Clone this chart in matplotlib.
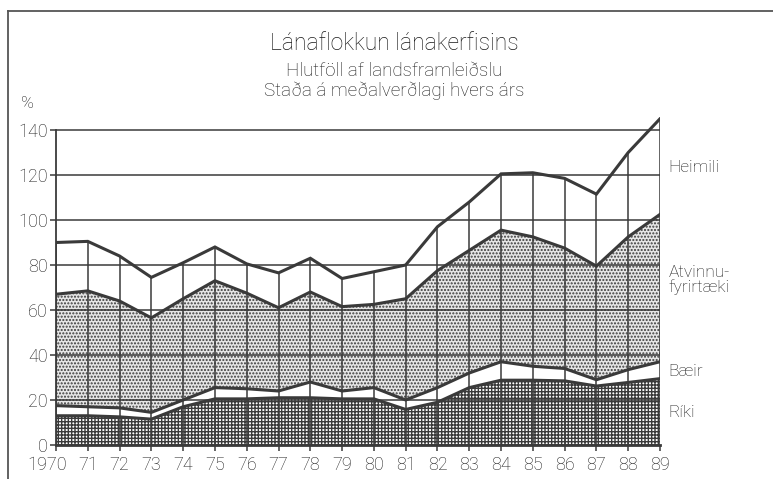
import numpy as np
import matplotlib
matplotlib.use('Agg')
import matplotlib.pyplot as plt
from matplotlib.lines import Line2D
from matplotlib.transforms import ScaledTranslation

# ---- data ----
years = list(range(1970, 1990))
year_labels = ['1970', '71', '72', '73', '74', '75', '76', '77', '78', '79',
               '80', '81', '82', '83', '84', '85', '86', '87', '88', '89']
riki = [13, 13, 12.5, 11.5, 17, 20.5, 20.5, 21, 21, 20.5,
        20.5, 15.8, 19, 25.5, 28.8, 28.8, 28.5, 26.2, 27.8, 29.5]
baeir = [4.5, 4, 4, 3, 3, 5, 4.5, 3, 7, 3.5,
         5, 4.2, 6.5, 6.5, 8.2, 6.2, 5.5, 2.8, 5.7, 7.5]
atvinnu = [49.5, 51.5, 47.5, 42, 45, 47.5, 42.5, 37, 40, 37.5,
           37, 45, 52, 54.5, 58.5, 57.5, 53.5, 50.5, 59, 65.5]
heimili = [23, 22, 20, 18, 16, 15, 13, 15.5, 15, 12.5,
           14.5, 15, 19.5, 21.5, 25, 28.5, 31, 32, 37.5, 42.5]
series_names = ['Ríki', 'Bæir', 'Atvinnu-\nfyrirtæki', 'Heimili']
label_pos = [14.3, 32.6, 73.3, 123.4]
yticks = [0, 20, 40, 60, 80, 100, 120, 140]

title = 'Lánaflokkun lánakerfisins'
subtitle1 = 'Hlutföll af landsframleiðslu'
subtitle2 = 'Staða á meðalverðlagi hvers árs'

# ---- style ----
ink = '#3a3a3a'
txt = '#1a1a1a'
plt.rcParams['font.family'] = ['Roboto', 'Liberation Sans', 'DejaVu Sans']
plt.rcParams['font.weight'] = 'light'
plt.rcParams['hatch.linewidth'] = 1.0
plt.rcParams['hatch.color'] = ink

W, H = 773, 479
fig = plt.figure(figsize=(W / 100, H / 100), dpi=100)
fig.patch.set_facecolor('white')
ax = fig.add_axes([56 / W, 34 / H, 604 / W, (445 - 116.5) / H])
ax.set_xlim(1970, 1989)
ax.set_ylim(0, 146)

x = np.array(years)
layers = [riki, baeir, atvinnu, heimili]
hatches = ['+++++', None, '.....', None]
faces = ['white', 'white', '#e6e6e6', 'white']
base = np.zeros(len(x))
tops = []
for vals, h, fc in zip(layers, hatches, faces):
    top = base + np.array(vals, dtype=float)
    ax.fill_between(x, base, top, facecolor=fc,
                    edgecolor=ink if h else 'none', hatch=h,
                    linewidth=0, zorder=1)
    tops.append(top)
    base = top

for yv in yticks[1:]:
    ax.axhline(yv, color=ink, lw=1.1, zorder=3)
ax.vlines(x, 0, tops[-1], color=ink, lw=1.1, zorder=3)
for top in tops:
    ax.plot(x, top, color=ink, lw=2.2, zorder=4, solid_joinstyle='miter')

for s in ['top', 'right']:
    ax.spines[s].set_visible(False)
ax.spines['left'].set_bounds(0, 140)
ax.spines['left'].set_color(ink)
ax.spines['left'].set_linewidth(1.3)
ax.spines['bottom'].set_color(ink)
ax.spines['bottom'].set_linewidth(2.0)
ax.spines['bottom'].set_zorder(5)

ax.set_xticks(years)
ax.set_xticklabels(year_labels)
ax.set_yticks(yticks)
ax.set_yticklabels([str(v) for v in yticks])
ax.tick_params(axis='both', direction='out', length=4.5, width=1.1,
               color=ink, labelsize=13, labelcolor=txt)
ax.tick_params(axis='x', pad=3.5)
ax.tick_params(axis='y', pad=1.5)
first = ax.xaxis.get_major_ticks()[0].label1
first.set_transform(first.get_transform() +
                    ScaledTranslation(-0.09, 0, fig.dpi_scale_trans))

for name, yv in zip(series_names, label_pos):
    ax.annotate(name, xy=(1989, yv), xytext=(6, 0), textcoords='offset points',
                ha='left', va='center', fontsize=12.5, color=txt,
                linespacing=0.95, annotation_clip=False)

cx = 394 / W
fig.text(cx, 1 - 50 / H, title, ha='center', va='baseline', fontsize=16.5,
         color=txt)
fig.text(cx, 1 - 75.5 / H, subtitle1, ha='center', va='baseline',
         fontsize=13.5, color=txt)
fig.text(cx, 1 - 96 / H, subtitle2, ha='center', va='baseline',
         fontsize=13.5, color=txt)
fig.text(28 / W, 1 - 104 / H, '%', ha='center', va='center', fontsize=12.5,
         color=txt)

fig.add_artist(Line2D([8 / W, 1], [1 - 10.5 / H] * 2, transform=fig.transFigure,
                      color='#555555', lw=1.3))
fig.add_artist(Line2D([8 / W, 8 / W], [0, 1 - 10.5 / H], transform=fig.transFigure,
                      color='#555555', lw=1.3))

fig.savefig('out.png', dpi=100)
